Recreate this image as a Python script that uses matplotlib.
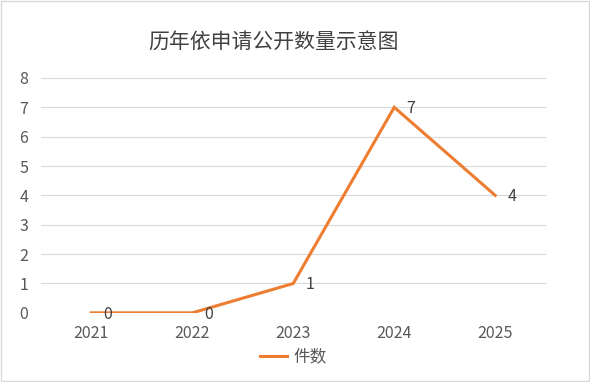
import matplotlib.pyplot as plt
from matplotlib.patches import Rectangle

plt.rcParams['font.family'] = ['Noto Sans CJK SC', 'DejaVu Sans']

# 数据
years = ['2021', '2022', '2023', '2024', '2025']
counts = [0, 0, 1, 7, 4]
series_name = '件数'
title = '历年依申请公开数量示意图'

fig = plt.figure(figsize=(5.9, 3.82), dpi=100)
ax = fig.add_axes([0.069, 0.181, 0.856, 0.615])

x = range(len(years))
ax.plot(x, counts, color='#ED7D31', linewidth=2.2, label=series_name, solid_joinstyle='miter')

# 数据标签
for xi, yi in zip(x, counts):
    ax.annotate(str(yi), (xi, yi), xytext=(9, -1), textcoords='offset points',
                ha='left', va='center', fontsize=11.5, color='#404040')

ax.set_xlim(-0.5, len(years) - 0.5)
ax.set_ylim(0, 8)
ax.set_yticks(range(0, 9))
ax.set_xticks(list(x))
ax.set_xticklabels(years)
ax.tick_params(axis='both', length=0, labelsize=11.5, labelcolor='#595959')
ax.tick_params(axis='x', pad=9)
ax.tick_params(axis='y', pad=9)
ax.grid(axis='y', color='#d9d9d9', linewidth=0.8)
ax.set_axisbelow(True)
for s in ax.spines.values():
    s.set_visible(False)

fig.text(0.463, 0.887, title, ha='center', va='center', fontsize=15, color='#404040')

leg = fig.legend(loc='center', bbox_to_anchor=(0.497, 0.065), frameon=False,
                 fontsize=12, handlelength=1.6, handletextpad=0.4)
for t in leg.get_texts():
    t.set_color('#595959')

# 外框
fig.patches.append(Rectangle((0.002, 0.003), 0.996, 0.994, transform=fig.transFigure,
                             fill=False, edgecolor='#d9d9d9', linewidth=1))

plt.savefig('out.png', dpi=100)
